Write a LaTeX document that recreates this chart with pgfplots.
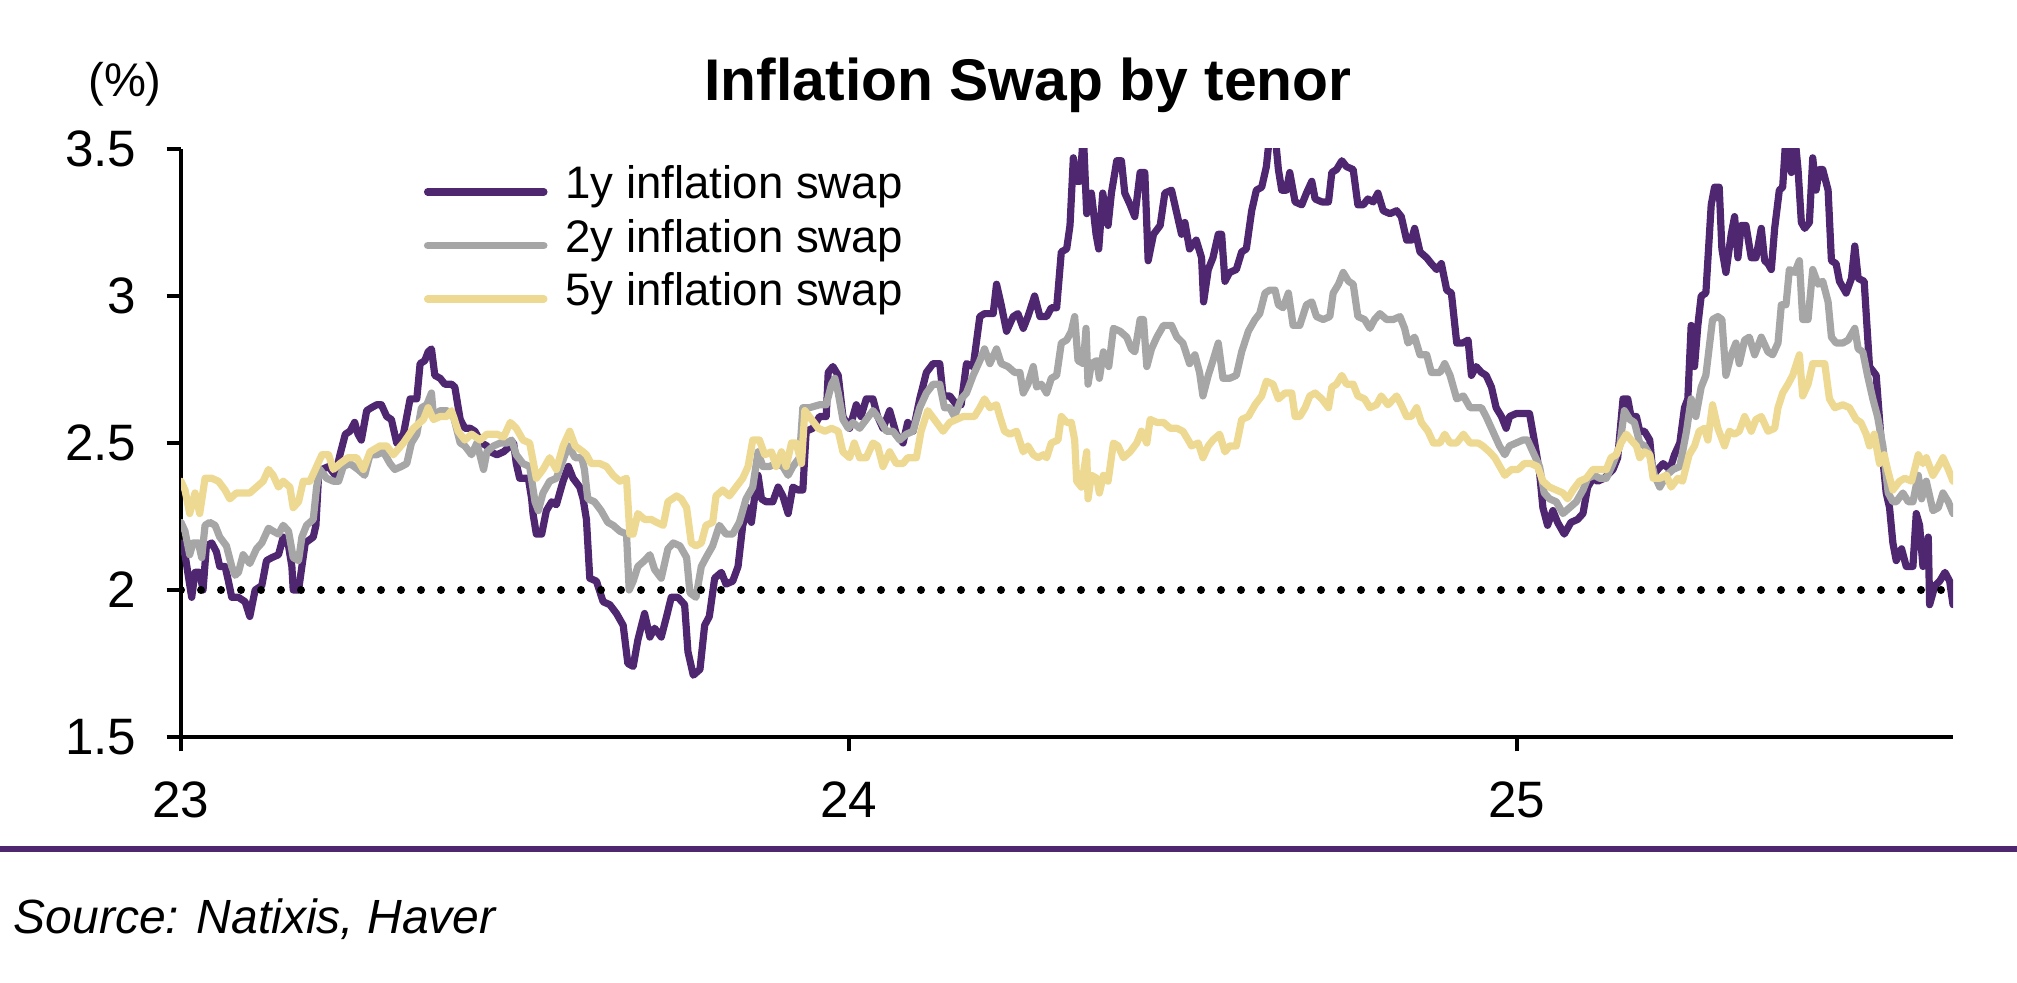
\documentclass[border=0pt]{standalone}
\usepackage{pgfplots}
\pgfplotsset{compat=1.18}
\usepackage{fontspec}
\setmainfont{Liberation Sans}
\definecolor{cpurple}{HTML}{4E2770}
\definecolor{cgray}{HTML}{A6A6A6}
\definecolor{cyellow}{HTML}{EDD992}
\begin{document}
\begin{tikzpicture}
\path[use as bounding box] (0,0) rectangle (504.25pt,245.75pt);
\begin{axis}[
  at={(45.25pt,61.5pt)}, anchor=south west,
  width=443pt, height=147pt, scale only axis,
  xmin=23, xmax=25.653, ymin=1.5, ymax=3.5,
  axis lines*=left,
  axis line style={line width=0.85pt, black},
  xtick={23,24,25}, xticklabels={23,24,25},
  ytick={1.5,2,2.5,3,3.5},
  tick align=outside, major tick length=3.6pt,
  tick style={line width=0.85pt, black},
  /pgf/number format/assume math mode=true,
  tick label style={font=\fontsize{12.8}{13}\selectfont},
  yticklabel style={xshift=-4pt},
  xticklabel style={yshift=-4pt},
  every axis plot/.append style={line join=round, line cap=round},
  legend style={at={(axis description cs:0.1371,0.836)}, anchor=west,
    draw=none, fill=none, inner sep=0pt, outer sep=0pt,
    font=\fontsize{11.4}{12}\selectfont, column sep=4.5pt,
    nodes={inner sep=0pt, text height=8.4pt, text depth=5pt}},
  legend cell align=left,
  legend image code/.code={\draw[#1, line width=1.9pt, line cap=round] (0pt,0pt) -- (29pt,0pt);},
]
\addplot[cpurple, line width=1.8pt] coordinates {
(23.000,2.16)(23.006,2.12)(23.016,1.975)(23.021,2.06)(23.028,2.06)(23.033,2.00)(23.038,2.15)(23.046,2.16)(23.053,2.13)(23.058,2.08)(23.066,2.08)(23.071,2.03)(23.076,1.975)(23.086,1.975)(23.096,1.96)(23.103,1.91)(23.111,2.00)(23.121,2.015)(23.128,2.10)(23.136,2.11)(23.146,2.12)(23.153,2.18)(23.161,2.15)(23.166,2.08)(23.168,2.00)(23.176,2.00)(23.181,2.08)(23.186,2.16)(23.198,2.18)(23.202,2.22)(23.206,2.39)(23.211,2.41)(23.221,2.42)(23.231,2.39)(23.238,2.46)(23.246,2.53)(23.253,2.54)(23.260,2.57)(23.265,2.53)(23.270,2.51)(23.278,2.61)(23.285,2.62)(23.293,2.63)(23.300,2.63)(23.308,2.59)(23.315,2.58)(23.323,2.50)(23.333,2.53)(23.343,2.65)(23.353,2.65)(23.358,2.77)(23.365,2.78)(23.370,2.81)(23.375,2.82)(23.380,2.73)(23.388,2.72)(23.395,2.70)(23.405,2.70)(23.410,2.69)(23.418,2.58)(23.425,2.55)(23.433,2.55)(23.440,2.54)(23.450,2.50)(23.458,2.49)(23.463,2.47)(23.473,2.46)(23.483,2.47)(23.493,2.49)(23.498,2.50)(23.502,2.43)(23.507,2.38)(23.520,2.38)(23.525,2.31)(23.527,2.26)(23.532,2.19)(23.540,2.19)(23.547,2.27)(23.555,2.30)(23.562,2.29)(23.572,2.37)(23.580,2.42)(23.587,2.38)(23.597,2.35)
(23.602,2.31)(23.607,2.24)(23.612,2.04)(23.622,2.03)(23.632,1.96)(23.642,1.95)(23.652,1.92)(23.662,1.88)(23.669,1.75)(23.677,1.74)(23.684,1.83)(23.694,1.92)(23.702,1.84)(23.709,1.87)(23.719,1.84)(23.727,1.91)(23.734,1.975)(23.744,1.975)(23.754,1.95)(23.759,1.79)(23.767,1.71)(23.777,1.73)(23.784,1.88)(23.791,1.91)(23.799,2.04)(23.809,2.06)(23.816,2.02)(23.826,2.03)(23.834,2.08)(23.841,2.22)(23.849,2.28)(23.854,2.23)(23.859,2.32)(23.864,2.39)(23.869,2.31)(23.876,2.30)(23.886,2.30)(23.894,2.35)(23.901,2.32)(23.909,2.26)(23.916,2.35)(23.924,2.34)(23.931,2.34)(23.936,2.54)(23.946,2.55)(23.956,2.59)(23.966,2.59)(23.969,2.74)(23.976,2.76)(23.984,2.73)(23.991,2.59)(24.001,2.55)(24.011,2.63)(24.018,2.59)(24.026,2.65)(24.036,2.65)(24.043,2.59)(24.051,2.55)(24.061,2.61)(24.071,2.53)(24.081,2.50)(24.088,2.57)(24.096,2.54)(24.106,2.65)(24.116,2.74)(24.126,2.77)(24.136,2.77)(24.141,2.66)(24.151,2.66)(24.161,2.63)(24.168,2.63)(24.176,2.77)(24.186,2.76)(24.196,2.93)(24.203,2.94)(24.216,2.94)(24.221,3.04)(24.228,2.97)(24.236,2.88)
(24.246,2.93)(24.253,2.94)(24.261,2.89)(24.268,2.93)(24.278,3.00)(24.286,2.93)(24.296,2.93)(24.303,2.96)(24.311,2.96)(24.318,3.15)(24.326,3.16)(24.331,3.24)(24.336,3.47)(24.341,3.39)(24.346,3.39)(24.351,3.55)(24.356,3.28)(24.363,3.35)(24.370,3.21)(24.374,3.16)(24.380,3.35)(24.388,3.24)(24.393,3.35)(24.401,3.46)(24.408,3.46)(24.413,3.35)(24.421,3.31)(24.428,3.27)(24.436,3.42)(24.443,3.42)(24.448,3.12)(24.456,3.21)(24.466,3.24)(24.473,3.35)(24.483,3.36)(24.491,3.28)(24.498,3.21)(24.503,3.25)(24.510,3.16)(24.520,3.19)(24.528,3.13)(24.531,2.98)(24.538,3.09)(24.545,3.13)(24.553,3.21)(24.558,3.21)(24.563,3.05)(24.570,3.08)(24.580,3.09)(24.588,3.15)(24.595,3.16)(24.603,3.29)(24.610,3.36)(24.618,3.37)(24.625,3.44)(24.630,3.55)(24.638,3.55)(24.643,3.43)(24.648,3.36)(24.655,3.36)(24.660,3.42)(24.668,3.32)(24.678,3.31)(24.685,3.35)(24.693,3.39)(24.698,3.33)(24.708,3.32)(24.718,3.32)(24.723,3.42)(24.730,3.43)(24.738,3.46)(24.745,3.44)(24.755,3.43)(24.762,3.31)(24.770,3.31)(24.777,3.33)(24.785,3.32)(24.792,3.35)(24.800,3.29)(24.810,3.28)(24.820,3.29)(24.827,3.27)(24.835,3.19)(24.842,3.19)(24.847,3.23)(24.855,3.15)(24.865,3.13)(24.872,3.11)(24.880,3.09)(24.887,3.11)(24.895,3.02)(24.902,3.01)(24.910,2.84)(24.919,2.84)(24.927,2.85)(24.932,2.73)
(24.939,2.76)(24.947,2.74)(24.954,2.73)(24.962,2.69)(24.969,2.62)(24.977,2.59)(24.984,2.55)(24.989,2.59)(24.999,2.60)(25.009,2.60)(25.019,2.60)(25.026,2.51)(25.034,2.40)(25.039,2.28)(25.046,2.22)(25.054,2.27)(25.061,2.23)(25.071,2.19)(25.081,2.23)(25.091,2.24)(25.099,2.26)(25.106,2.35)(25.114,2.38)(25.121,2.37)(25.131,2.38)(25.144,2.41)(25.151,2.45)(25.159,2.65)(25.166,2.65)(25.171,2.59)(25.179,2.59)(25.184,2.54)(25.191,2.54)(25.199,2.51)(25.204,2.39)(25.211,2.41)(25.219,2.43)(25.229,2.41)(25.236,2.46)(25.244,2.50)(25.251,2.62)(25.256,2.65)(25.261,2.90)(25.266,2.76)(25.271,2.90)(25.276,3.00)(25.283,3.01)(25.291,3.31)(25.296,3.37)(25.303,3.37)(25.307,3.16)(25.313,3.08)(25.321,3.21)(25.326,3.27)(25.331,3.13)(25.336,3.24)(25.343,3.24)(25.351,3.13)(25.358,3.13)(25.366,3.23)(25.371,3.12)(25.376,3.11)(25.381,3.09)(25.386,3.23)(25.393,3.36)(25.398,3.37)(25.403,3.55)(25.411,3.42)(25.416,3.55)(25.421,3.43)(25.426,3.25)(25.431,3.23)(25.438,3.25)(25.443,3.47)(25.448,3.36)(25.453,3.43)(25.458,3.43)(25.466,3.36)(25.471,3.12)(25.478,3.11)(25.483,3.05)(25.493,3.01)(25.501,3.06)(25.506,3.17)(25.511,3.06)(25.520,3.05)(25.528,2.76)(25.538,2.73)(25.546,2.49)(25.553,2.33)(25.558,2.28)(25.563,2.16)(25.568,2.10)(25.576,2.14)(25.583,2.08)(25.593,2.08)(25.598,2.26)(25.603,2.22)(25.608,2.08)(25.616,2.18)(25.618,1.95)(25.626,2.015)(25.633,2.03)(25.641,2.06)(25.648,2.03)(25.653,1.95)
};
\addlegendentry{1y inflation swap}
\addplot[cgray, line width=1.8pt] coordinates {
(23.000,2.23)(23.006,2.20)(23.013,2.12)(23.018,2.16)(23.026,2.16)(23.031,2.11)(23.036,2.22)(23.043,2.23)(23.051,2.22)(23.058,2.18)(23.068,2.15)(23.076,2.08)(23.081,2.05)(23.086,2.06)(23.093,2.12)(23.103,2.09)(23.113,2.14)(23.121,2.16)(23.131,2.21)(23.138,2.20)(23.146,2.19)(23.153,2.22)(23.161,2.20)(23.168,2.11)(23.176,2.10)(23.181,2.18)(23.188,2.22)(23.198,2.24)(23.203,2.35)(23.208,2.41)(23.218,2.38)(23.228,2.37)(23.236,2.37)(23.243,2.42)(23.253,2.43)(23.265,2.41)(23.275,2.39)(23.283,2.46)(23.293,2.46)(23.303,2.47)(23.313,2.43)(23.320,2.41)(23.330,2.42)(23.338,2.43)(23.345,2.50)(23.353,2.53)(23.360,2.62)(23.368,2.63)(23.375,2.67)(23.378,2.59)(23.388,2.61)(23.398,2.61)(23.408,2.59)(23.418,2.50)(23.425,2.49)(23.435,2.46)(23.443,2.50)(23.453,2.41)(23.458,2.47)(23.468,2.49)(23.478,2.50)(23.488,2.50)(23.495,2.51)(23.502,2.46)(23.512,2.43)(23.522,2.42)(23.530,2.30)(23.535,2.27)(23.542,2.33)(23.552,2.37)(23.562,2.38)(23.570,2.43)(23.580,2.49)(23.590,2.45)(23.600,2.45)
(23.604,2.41)(23.609,2.31)(23.619,2.30)(23.629,2.27)(23.639,2.23)(23.647,2.22)(23.657,2.20)(23.667,2.19)(23.671,2.00)(23.677,2.03)(23.684,2.08)(23.694,2.10)(23.702,2.12)(23.709,2.07)(23.719,2.04)(23.729,2.14)(23.737,2.16)(23.747,2.15)(23.757,2.11)(23.762,1.99)(23.771,1.975)(23.779,2.08)(23.786,2.11)(23.796,2.15)(23.806,2.22)(23.816,2.19)(23.826,2.19)(23.836,2.23)(23.846,2.31)(23.856,2.35)(23.864,2.47)(23.871,2.42)(23.881,2.42)(23.891,2.43)(23.901,2.42)(23.909,2.39)(23.916,2.42)(23.926,2.45)(23.931,2.62)(23.941,2.62)(23.956,2.63)(23.966,2.63)(23.974,2.70)(23.979,2.72)(23.984,2.67)(23.991,2.58)(23.999,2.55)(24.006,2.57)(24.016,2.55)(24.026,2.58)(24.036,2.61)(24.046,2.58)(24.056,2.54)(24.066,2.54)(24.076,2.51)(24.086,2.53)(24.096,2.54)(24.106,2.62)(24.116,2.67)(24.126,2.70)(24.136,2.70)(24.143,2.62)(24.151,2.62)(24.158,2.59)(24.168,2.65)(24.176,2.67)(24.186,2.73)(24.196,2.78)(24.203,2.82)(24.211,2.77)(24.221,2.82)(24.228,2.77)(24.238,2.76)
(24.248,2.74)(24.256,2.74)(24.261,2.67)(24.268,2.70)(24.276,2.76)(24.281,2.69)(24.288,2.70)(24.296,2.67)(24.303,2.72)(24.311,2.73)(24.318,2.84)(24.326,2.85)(24.333,2.88)(24.338,2.93)(24.343,2.78)(24.351,2.77)(24.355,2.89)(24.358,2.70)(24.363,2.77)(24.371,2.78)(24.375,2.72)(24.381,2.81)(24.389,2.76)(24.396,2.89)(24.406,2.88)(24.416,2.86)(24.423,2.82)(24.428,2.81)(24.436,2.92)(24.441,2.92)(24.446,2.76)(24.453,2.82)(24.461,2.86)(24.471,2.90)(24.483,2.90)(24.491,2.86)(24.500,2.84)(24.510,2.77)(24.518,2.80)(24.525,2.74)(24.530,2.66)(24.538,2.73)(24.545,2.78)(24.553,2.84)(24.560,2.72)(24.570,2.72)(24.580,2.73)(24.588,2.81)(24.598,2.88)(24.608,2.92)(24.615,2.94)(24.623,3.01)(24.630,3.02)(24.638,3.02)(24.643,2.97)(24.650,2.96)(24.658,3.01)(24.665,2.90)(24.675,2.90)(24.685,2.97)(24.693,2.98)(24.700,2.93)(24.710,2.92)(24.720,2.93)(24.725,3.01)(24.733,3.04)(24.740,3.08)(24.748,3.05)(24.755,3.04)(24.762,2.93)(24.772,2.92)(24.780,2.89)(24.787,2.92)(24.795,2.94)(24.805,2.92)(24.815,2.92)(24.825,2.93)(24.832,2.89)(24.837,2.84)(24.847,2.86)(24.855,2.80)(24.865,2.80)(24.872,2.74)(24.885,2.74)(24.892,2.77)(24.900,2.73)(24.910,2.65)(24.920,2.66)(24.930,2.62)
(24.939,2.62)(24.947,2.62)(24.954,2.59)(24.964,2.54)(24.974,2.49)(24.982,2.46)(24.989,2.49)(24.999,2.50)(25.009,2.51)(25.016,2.51)(25.024,2.47)(25.034,2.42)(25.041,2.33)(25.049,2.31)(25.059,2.30)(25.069,2.26)(25.079,2.28)(25.089,2.30)(25.099,2.34)(25.106,2.38)(25.116,2.39)(25.124,2.38)(25.134,2.38)(25.144,2.43)(25.154,2.49)(25.161,2.61)(25.169,2.58)(25.176,2.57)(25.184,2.50)(25.191,2.49)(25.199,2.46)(25.206,2.39)(25.214,2.35)(25.224,2.39)(25.234,2.41)(25.244,2.42)(25.254,2.54)(25.261,2.65)(25.268,2.59)(25.276,2.69)(25.283,2.73)(25.293,2.92)(25.301,2.93)(25.307,2.92)(25.313,2.73)(25.321,2.80)(25.328,2.84)(25.333,2.77)(25.341,2.85)(25.348,2.86)(25.356,2.80)(25.366,2.86)(25.376,2.81)(25.383,2.80)(25.391,2.84)(25.396,2.97)(25.403,2.97)(25.408,3.09)(25.416,3.08)(25.423,3.12)(25.428,2.92)(25.436,2.92)(25.443,3.09)(25.451,3.04)(25.458,3.05)(25.466,2.98)(25.471,2.86)(25.478,2.84)(25.488,2.84)(25.496,2.85)(25.506,2.89)(25.511,2.82)(25.518,2.81)(25.525,2.73)(25.533,2.65)(25.540,2.59)(25.548,2.49)(25.556,2.33)(25.563,2.30)(25.568,2.30)(25.578,2.33)(25.586,2.30)(25.593,2.30)(25.601,2.39)(25.606,2.31)(25.613,2.37)(25.623,2.27)(25.631,2.28)(25.638,2.33)(25.646,2.30)(25.653,2.26)
};
\addlegendentry{2y inflation swap}
\addplot[cyellow, line width=1.8pt] coordinates {
(23.000,2.37)(23.006,2.34)(23.013,2.26)(23.021,2.33)(23.028,2.26)(23.036,2.38)(23.046,2.38)(23.056,2.37)(23.066,2.34)(23.073,2.31)(23.083,2.33)(23.093,2.33)(23.103,2.33)(23.113,2.35)(23.123,2.37)(23.131,2.41)(23.138,2.39)(23.146,2.35)(23.153,2.37)(23.163,2.35)(23.168,2.28)(23.176,2.30)(23.183,2.37)(23.193,2.37)(23.201,2.41)(23.211,2.46)(23.221,2.46)(23.228,2.41)(23.238,2.43)(23.250,2.45)(23.263,2.45)(23.273,2.41)(23.283,2.47)(23.298,2.49)(23.308,2.49)(23.318,2.46)(23.333,2.50)(23.348,2.55)(23.363,2.58)(23.370,2.62)(23.378,2.58)(23.388,2.59)(23.398,2.59)(23.405,2.61)(23.415,2.54)(23.425,2.51)(23.435,2.53)(23.448,2.51)(23.458,2.53)(23.473,2.53)(23.483,2.52)(23.493,2.57)(23.502,2.55)(23.512,2.51)(23.522,2.50)(23.532,2.38)(23.542,2.41)(23.552,2.45)(23.562,2.41)(23.572,2.49)(23.582,2.54)(23.590,2.49)(23.602,2.47)
(23.607,2.46)(23.614,2.43)(23.627,2.43)(23.637,2.42)(23.647,2.39)(23.657,2.37)(23.667,2.38)(23.672,2.19)(23.677,2.19)(23.684,2.26)(23.694,2.24)(23.704,2.24)(23.712,2.23)(23.722,2.22)(23.729,2.30)(23.742,2.32)(23.749,2.31)(23.757,2.28)(23.764,2.16)(23.771,2.15)(23.779,2.16)(23.786,2.22)(23.796,2.23)(23.801,2.32)(23.811,2.34)(23.821,2.32)(23.831,2.35)(23.841,2.38)(23.849,2.42)(23.856,2.51)(23.866,2.51)(23.874,2.46)(23.884,2.47)(23.891,2.42)(23.899,2.47)(23.906,2.42)(23.914,2.50)(23.921,2.50)(23.929,2.43)(23.934,2.61)(23.944,2.58)(23.954,2.55)(23.964,2.54)(23.974,2.55)(23.984,2.54)(23.991,2.47)(24.001,2.45)(24.008,2.50)(24.016,2.45)(24.026,2.45)(24.036,2.50)(24.043,2.49)(24.051,2.42)(24.061,2.47)(24.071,2.43)(24.081,2.43)(24.088,2.45)(24.101,2.45)(24.108,2.54)(24.118,2.61)(24.128,2.58)(24.141,2.54)(24.151,2.57)(24.161,2.58)(24.171,2.59)(24.181,2.59)(24.188,2.59)(24.196,2.62)(24.203,2.65)(24.211,2.62)(24.221,2.63)(24.226,2.59)(24.233,2.54)
(24.241,2.53)(24.251,2.54)(24.261,2.47)(24.268,2.49)(24.276,2.46)(24.283,2.45)(24.291,2.46)(24.296,2.45)(24.303,2.50)(24.313,2.51)(24.318,2.59)(24.326,2.57)(24.333,2.57)(24.338,2.51)(24.341,2.37)(24.348,2.35)(24.356,2.47)(24.358,2.31)(24.363,2.39)(24.371,2.38)(24.375,2.33)(24.381,2.39)(24.388,2.37)(24.396,2.50)(24.403,2.49)(24.411,2.45)(24.421,2.47)(24.431,2.50)(24.438,2.54)(24.446,2.50)(24.451,2.58)(24.461,2.57)(24.471,2.57)(24.481,2.55)(24.491,2.55)(24.500,2.54)(24.508,2.51)(24.513,2.49)(24.523,2.50)(24.530,2.45)(24.538,2.49)(24.545,2.51)(24.555,2.53)(24.563,2.47)(24.570,2.49)(24.580,2.49)(24.588,2.58)(24.598,2.59)(24.608,2.63)(24.618,2.66)(24.625,2.71)(24.635,2.70)(24.643,2.65)(24.653,2.67)(24.663,2.67)(24.668,2.59)(24.675,2.59)(24.683,2.62)(24.690,2.66)(24.698,2.67)(24.708,2.65)(24.718,2.62)(24.723,2.69)(24.730,2.70)(24.738,2.73)(24.745,2.70)(24.755,2.70)(24.762,2.66)(24.772,2.65)(24.780,2.62)(24.790,2.63)(24.797,2.66)(24.807,2.63)(24.820,2.66)(24.827,2.63)(24.835,2.59)(24.842,2.59)(24.850,2.62)(24.857,2.57)(24.867,2.54)(24.875,2.50)(24.885,2.50)(24.892,2.53)(24.900,2.50)(24.910,2.50)(24.920,2.53)(24.930,2.50)
(24.942,2.50)(24.949,2.49)(24.959,2.47)(24.967,2.45)(24.977,2.41)(24.982,2.39)(24.992,2.41)(25.002,2.41)(25.011,2.43)(25.021,2.43)(25.031,2.42)(25.039,2.37)(25.049,2.35)(25.059,2.34)(25.069,2.33)(25.076,2.31)(25.084,2.34)(25.094,2.37)(25.104,2.38)(25.114,2.41)(25.124,2.41)(25.134,2.41)(25.141,2.45)(25.149,2.46)(25.156,2.50)(25.164,2.53)(25.171,2.51)(25.179,2.49)(25.184,2.45)(25.191,2.47)(25.199,2.46)(25.204,2.38)(25.214,2.38)(25.224,2.39)(25.231,2.35)(25.241,2.38)(25.248,2.37)(25.258,2.46)(25.266,2.49)(25.273,2.54)(25.281,2.55)(25.286,2.51)(25.293,2.63)(25.301,2.55)(25.311,2.49)(25.318,2.54)(25.326,2.53)(25.333,2.54)(25.341,2.59)(25.351,2.54)(25.358,2.58)(25.366,2.59)(25.376,2.54)(25.386,2.55)(25.391,2.62)(25.398,2.67)(25.406,2.70)(25.413,2.73)(25.423,2.80)(25.428,2.66)(25.436,2.70)(25.443,2.77)(25.453,2.77)(25.461,2.77)(25.468,2.65)(25.476,2.62)(25.488,2.63)(25.498,2.62)(25.508,2.58)(25.515,2.57)(25.523,2.53)(25.528,2.49)(25.535,2.53)(25.543,2.43)(25.550,2.46)(25.555,2.41)(25.563,2.34)(25.573,2.37)(25.581,2.38)(25.591,2.37)(25.601,2.46)(25.608,2.43)(25.613,2.45)(25.623,2.39)(25.631,2.42)(25.638,2.45)(25.646,2.41)(25.653,2.37)
};
\addlegendentry{5y inflation swap}
\addplot[black, line width=2pt, line cap=round, dash pattern=on 0pt off 5pt, forget plot] coordinates {(23,2) (25.653,2)};
\end{axis}
\node[anchor=base, inner sep=0pt, font=\fontsize{14.7}{16}\selectfont\bfseries] at (257pt,220.5pt) {Inflation Swap by tenor};
\node[anchor=base, inner sep=0pt, font=\fontsize{11.8}{12}\selectfont] at (31.25pt,221.5pt) {(\%)};
\draw[cpurple, line width=1.6pt] (0pt,33.5pt) -- (504.25pt,33.5pt);
\node[anchor=base west, inner sep=0pt, font=\fontsize{12}{13}\selectfont\itshape] at (3.25pt,12.45pt) {Source: Natixis, Haver};
\end{tikzpicture}
\end{document}
